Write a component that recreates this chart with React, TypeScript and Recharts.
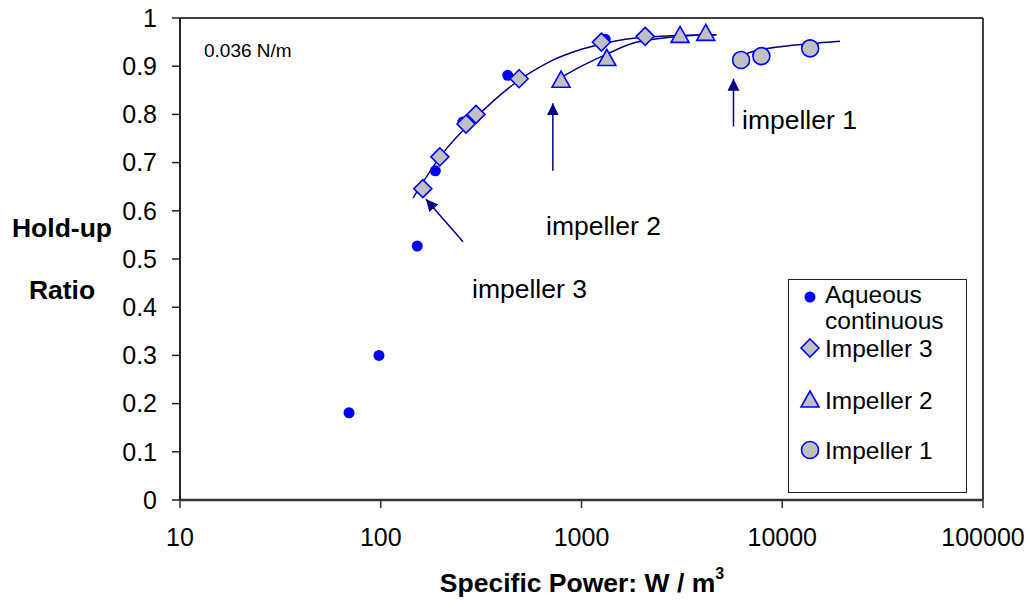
import React from "react";
import {
  ComposedChart,
  Scatter,
  Line,
  XAxis,
  YAxis,
  ReferenceLine,
  Legend,
} from "recharts";

// hold-up ratio vs specific power
const xTicks = [10, 100, 1000, 10000, 100000];
const yTicks = [0, 0.1, 0.2, 0.3, 0.4, 0.5, 0.6, 0.7, 0.8, 0.9, 1];

const aqueous = [
  { x: 69.5, y: 0.181 },
  { x: 98, y: 0.3 },
  { x: 152, y: 0.527 },
  { x: 187, y: 0.683 },
  { x: 256, y: 0.784 },
  { x: 429, y: 0.881 },
  { x: 1313, y: 0.956 },
];

const impeller3 = [
  { x: 162, y: 0.646 },
  { x: 197, y: 0.712 },
  { x: 266, y: 0.78 },
  { x: 298, y: 0.8 },
  { x: 489, y: 0.874 },
  { x: 1256, y: 0.95 },
  { x: 2076, y: 0.962 },
];

const impeller2 = [
  { x: 791, y: 0.871 },
  { x: 1337, y: 0.916 },
  { x: 3097, y: 0.964 },
  { x: 4158, y: 0.968 },
];

const impeller1 = [
  { x: 6237, y: 0.913 },
  { x: 7870, y: 0.921 },
  { x: 13770, y: 0.937 },
];

// trend lines
const fit3 = [
  { x: 145, y: 0.627 },
  { x: 200, y: 0.715 },
  { x: 300, y: 0.795 },
  { x: 450, y: 0.86 },
  { x: 700, y: 0.91 },
  { x: 1000, y: 0.935 },
  { x: 1500, y: 0.953 },
  { x: 2500, y: 0.962 },
  { x: 4700, y: 0.965 },
];

const fit2 = [
  { x: 787, y: 0.876 },
  { x: 1000, y: 0.9 },
  { x: 1337, y: 0.925 },
  { x: 1750, y: 0.946 },
  { x: 2500, y: 0.958 },
  { x: 3100, y: 0.962 },
  { x: 4700, y: 0.965 },
];

const fit1 = [
  { x: 6100, y: 0.909 },
  { x: 6500, y: 0.924 },
  { x: 7800, y: 0.934 },
  { x: 10000, y: 0.941 },
  { x: 13800, y: 0.947 },
  { x: 19400, y: 0.952 },
];

const arrows = [
  { from: { x: 257, y: 0.536 }, to: { x: 168, y: 0.624 } },
  { from: { x: 720, y: 0.683 }, to: { x: 720, y: 0.823 } },
  { from: { x: 5716, y: 0.775 }, to: { x: 5716, y: 0.874 } },
];

const legendItems = ["Aqueous continuous", "Impeller 3", "Impeller 2", "Impeller 1"];

const BLUE = "#0000FF";
const NAVY = "#000080";
const GREY = "#C0C0C0";
const FONT = "'Liberation Sans', Arial, sans-serif";

const Dot = ({ cx, cy }: any) => <circle cx={cx} cy={cy} r={5.5} fill={BLUE} />;

const Diamond = ({ cx, cy }: any) => (
  <path
    d={`M${cx},${cy - 9}L${cx + 9},${cy}L${cx},${cy + 9}L${cx - 9},${cy}Z`}
    fill={GREY}
    stroke={BLUE}
    strokeWidth={1.6}
  />
);

const Triangle = ({ cx, cy }: any) => (
  <path
    d={`M${cx},${cy - 9}L${cx + 9},${cy + 7}L${cx - 9},${cy + 7}Z`}
    fill={GREY}
    stroke={BLUE}
    strokeWidth={1.6}
  />
);

const Ring = ({ cx, cy }: any) => (
  <circle cx={cx} cy={cy} r={8.5} fill={GREY} stroke={BLUE} strokeWidth={1.6} />
);

function LegendBox() {
  const shapes = [Dot, Diamond, Triangle, Ring];
  const rows = [18, 69, 121, 171];
  return (
    <svg width={180} height={215} style={{ overflow: "visible" }}>
      <rect x={0.5} y={0.5} width={178} height={213} fill="#fff" stroke="#222" strokeWidth={1} />
      {legendItems.map((name, i) => {
        const Shape = shapes[i];
        const y = rows[i];
        const words = i === 0 ? name.split(" ") : [name];
        return (
          <g key={name}>
            <Shape cx={22} cy={y} />
            <text x={37} y={y + (i === 0 ? 6 : 9)} fontSize={24.5} fill="#000">
              {words.map((w, j) => (
                <tspan key={w} x={37} dy={j === 0 ? 0 : 26}>
                  {w}
                </tspan>
              ))}
            </text>
          </g>
        );
      })}
    </svg>
  );
}

export default function App() {
  return (
    <div style={{ width: 1031, height: 600, fontFamily: FONT }}>
      <style>{`body{margin:0}`}</style>
      <ComposedChart
        width={1031}
        height={600}
        margin={{ top: 18, right: 48, bottom: 40, left: 100 }}
      >
        <defs>
          <marker
            id="arrowHead"
            viewBox="0 0 10 10"
            refX={10}
            refY={5}
            markerWidth={12}
            markerHeight={13}
            markerUnits="userSpaceOnUse"
            orient="auto"
          >
            <path d="M0,0L10,5L0,10Z" fill={NAVY} />
          </marker>
        </defs>
        <XAxis
          dataKey="x"
          type="number"
          scale="log"
          domain={[10, 100000]}
          ticks={xTicks}
          allowDataOverflow
          height={60}
          tickSize={8}
          tickMargin={20}
          tick={{ fill: "#000", fontSize: 25 }}
          axisLine={{ stroke: "#333", strokeWidth: 2.5 }}
          tickLine={{ stroke: "#333", strokeWidth: 1.5 }}
        />
        <YAxis
          dataKey="y"
          type="number"
          domain={[0, 1]}
          ticks={yTicks}
          allowDataOverflow
          width={80}
          tickSize={8}
          tickMargin={15}
          tick={{ fill: "#000", fontSize: 25 }}
          axisLine={{ stroke: "#222", strokeWidth: 2 }}
          tickLine={{ stroke: "#222", strokeWidth: 1.5 }}
        />
        <ReferenceLine y={1} stroke="#000" strokeWidth={1.5} />
        <ReferenceLine x={100000} stroke="#000" strokeWidth={1.5} />

        <Scatter name="Aqueous continuous" data={aqueous} shape={Dot} isAnimationActive={false} />
        <Scatter name="Impeller 3" data={impeller3} shape={Diamond} isAnimationActive={false} />
        <Scatter name="Impeller 2" data={impeller2} shape={Triangle} isAnimationActive={false} />
        <Scatter name="Impeller 1" data={impeller1} shape={Ring} isAnimationActive={false} />

        <Line data={fit3} dataKey="y" type="monotone" dot={false} stroke={NAVY} strokeWidth={1.5} legendType="none" isAnimationActive={false} />
        <Line data={fit2} dataKey="y" type="monotone" dot={false} stroke={NAVY} strokeWidth={1.5} legendType="none" isAnimationActive={false} />
        <Line data={fit1} dataKey="y" type="monotone" dot={false} stroke={NAVY} strokeWidth={1.5} legendType="none" isAnimationActive={false} />

        {arrows.map((a, i) => (
          <ReferenceLine
            key={i}
            segment={[a.from, a.to]}
            stroke={NAVY}
            strokeWidth={1.5}
            markerEnd="url(#arrowHead)"
          />
        ))}

        <text x={204} y={57} fontSize={19} fill="#000">0.036 N/m</text>
        <text x={472} y={298} fontSize={26.5} fill="#000">impeller 3</text>
        <text x={546} y={235} fontSize={26.5} fill="#000">impeller 2</text>
        <text x={742} y={129} fontSize={26.5} fill="#000">impeller 1</text>

        <text x={62} y={237} fontSize={26.5} fontWeight="bold" textAnchor="middle" fill="#000">Hold-up</text>
        <text x={62} y={299} fontSize={26.5} fontWeight="bold" textAnchor="middle" fill="#000">Ratio</text>
        <text x={582} y={592} fontSize={26.5} fontWeight="bold" textAnchor="middle" fill="#000">
          Specific Power: W / m
          <tspan fontSize={16} dy={-13}>3</tspan>
        </text>

        <Legend
          layout="horizontal"
          verticalAlign="middle"
          align="center"
          content={() => <LegendBox />}
          wrapperStyle={{ left: 788, top: 279, width: 180, height: 215 }}
        />
      </ComposedChart>
    </div>
  );
}
